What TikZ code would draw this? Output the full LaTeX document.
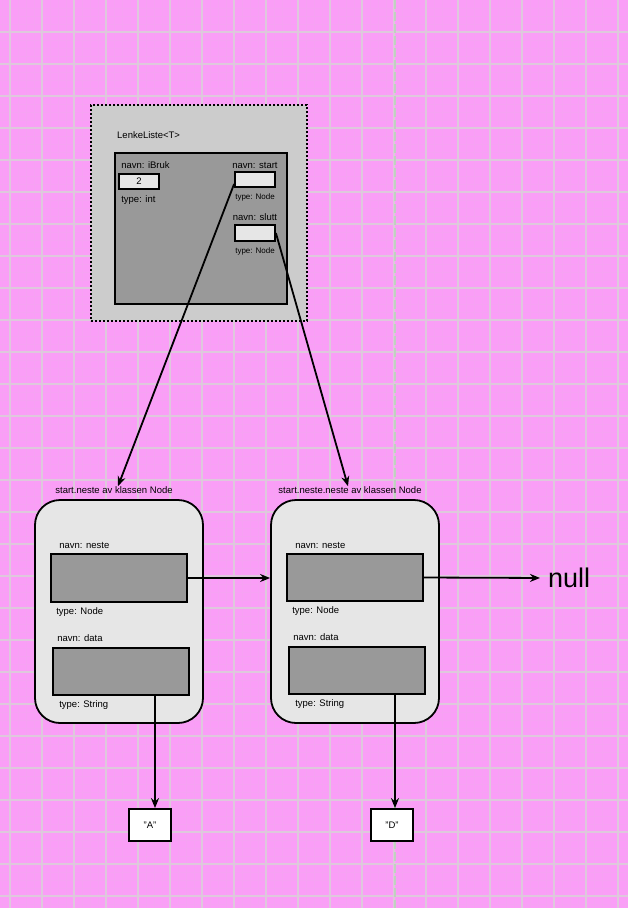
\documentclass[tikz,border=0pt]{standalone}
\usepackage{fontspec}
\setmainfont{Liberation Sans}
\usepackage{tikz}
\usetikzlibrary{positioning,arrows.meta}
\definecolor{bgpink}{RGB}{250,158,247}
\definecolor{gridmajor}{RGB}{222,200,220}
\definecolor{gridminor}{RGB}{246,162,243}
\definecolor{pagebreak}{RGB}{192,208,192}
\definecolor{listgray}{RGB}{204,204,204}
\definecolor{fieldgray}{RGB}{153,153,153}
\definecolor{nodegray}{RGB}{230,230,230}

\begin{document}
\begin{tikzpicture}[x=1pt, y=-1pt,
          box/.style={draw, line width=1.8pt, inner sep=0pt,
                      font=\fontsize{9.5}{11}\selectfont},
          listbox/.style={draw, line width=2pt, dash pattern=on 2pt off 2pt,
                          fill=listgray, minimum width=216pt, minimum height=216pt},
          objbox/.style={box, fill=fieldgray},
          nodebox/.style={box, fill=nodegray, rounded corners=25pt,
                          minimum width=168pt, minimum height=223pt},
          fieldbox/.style={box, fill=fieldgray, minimum width=136pt, minimum height=47pt},
          refbox/.style={box, fill=nodegray, minimum width=40pt, minimum height=15pt},
          valbox/.style={box, fill=white, minimum width=42pt, minimum height=32pt},
          lbl/.style={inner sep=0pt, text height=7pt, text depth=2pt,
                      font=\fontsize{9.5}{11}\selectfont},
          tinylbl/.style={inner sep=0pt, text height=6pt, text depth=1.7pt,
                          font=\fontsize{8}{9}\selectfont},
          arr/.style={-{Stealth[length=10pt,width=8pt]}, line width=1.8pt}]
  % background and grid
  \fill[bgpink] (0,0) rectangle (628,908);
  \useasboundingbox (0,0) rectangle (628,908);
  \foreach \gx in {2,10,...,626} \draw[gridminor, line width=0.6pt] (\gx,0) -- (\gx,908);
  \foreach \gy in {8,16,...,904} \draw[gridminor, line width=0.6pt] (0,\gy) -- (628,\gy);
  \foreach \gx in {10,42,...,618} \draw[gridmajor, line width=1.2pt] (\gx,0) -- (\gx,908);
  \foreach \gy in {32,64,...,896} \draw[gridmajor, line width=1.2pt] (0,\gy) -- (628,\gy);
  \draw[pagebreak, line width=1.8pt, dash pattern=on 9pt off 3pt] (395,0) -- (395,908);

  % LenkeListe object
  \node[listbox] (liste) at (199,213) {};
  \node[lbl, below right=27pt and 27pt of liste.north west] (listename) {LenkeListe<T>};
  \node[objbox, minimum width=172pt, minimum height=151pt] (obj) at (201,228.5) {};
  \node[refbox] (ibruk) at (139,181.5) {2};
  \node[lbl, above right=2.5pt and 3pt of ibruk.north west] (ibrukname) {navn: iBruk};
  \node[lbl, below right=5.5pt and 3pt of ibruk.south west] (ibruktype) {type: int};
  \node[refbox] (start) at (255,179.5) {};
  \node[lbl, above=0.5pt of start] (startname) {navn: start};
  \node[tinylbl, below=5pt of start] (starttype) {type: Node};
  \node[refbox, minimum height=16pt] (slutt) at (255,233) {};
  \node[lbl, above=1.5pt of slutt] (sluttname) {navn: slutt};
  \node[tinylbl, below=5pt of slutt] (slutttype) {type: Node};

  % first node
  \node[nodebox] (node1) at (119,611.5) {};
  \node[lbl, above=3.5pt of node1.north, xshift=-5pt] (title1) {start.neste av klassen Node};
  \node[fieldbox, minimum height=48pt] (neste1) at (119,578) {};
  \node[lbl, above right=2.5pt and 9pt of neste1.north west] {navn: neste};
  \node[lbl, below right=4.5pt and 6pt of neste1.south west] {type: Node};
  \node[fieldbox] (data1) at (121,671.5) {};
  \node[lbl, above right=3.5pt and 5pt of data1.north west] {navn: data};
  \node[lbl, below right=4.5pt and 7pt of data1.south west] {type: String};

  % second node
  \node[nodebox] (node2) at (355,611.5) {};
  \node[lbl, above=3.5pt of node2.north, xshift=-5pt] (title2) {start.neste.neste av klassen Node};
  \node[fieldbox] (neste2) at (355,577.5) {};
  \node[lbl, above right=2.5pt and 9pt of neste2.north west] {navn: neste};
  \node[lbl, below right=4.5pt and 6pt of neste2.south west] {type: Node};
  \node[fieldbox] (data2) at (357,670.5) {};
  \node[lbl, above right=3.5pt and 5pt of data2.north west] {navn: data};
  \node[lbl, below right=4.5pt and 7pt of data2.south west] {type: String};

  % values
  \node[valbox] (valA) at (150,825) {"A"};
  \node[valbox] (valD) at (392,825) {"D"};
  \node[inner sep=0pt, anchor=west, font=\fontsize{27}{30}\selectfont] (null) at (548,578) {null};

  % references
  \draw[arr] ([yshift=-4.5pt]start.west) -- ([xshift=4pt]title1.north);
  \draw[arr] (slutt.east) -- ([xshift=-2pt]title2.north);
  \draw[arr] (neste1.east) -- (neste1.east -| node2.west);
  \draw[arr, shorten >=8pt] (neste2.east) -- (null.west);
  \draw[arr] ([xshift=34pt]data1.south) -- ([xshift=5pt]valA.north);
  \draw[arr] ([xshift=38pt]data2.south) -- ([xshift=3pt]valD.north);
\end{tikzpicture}
\end{document}
